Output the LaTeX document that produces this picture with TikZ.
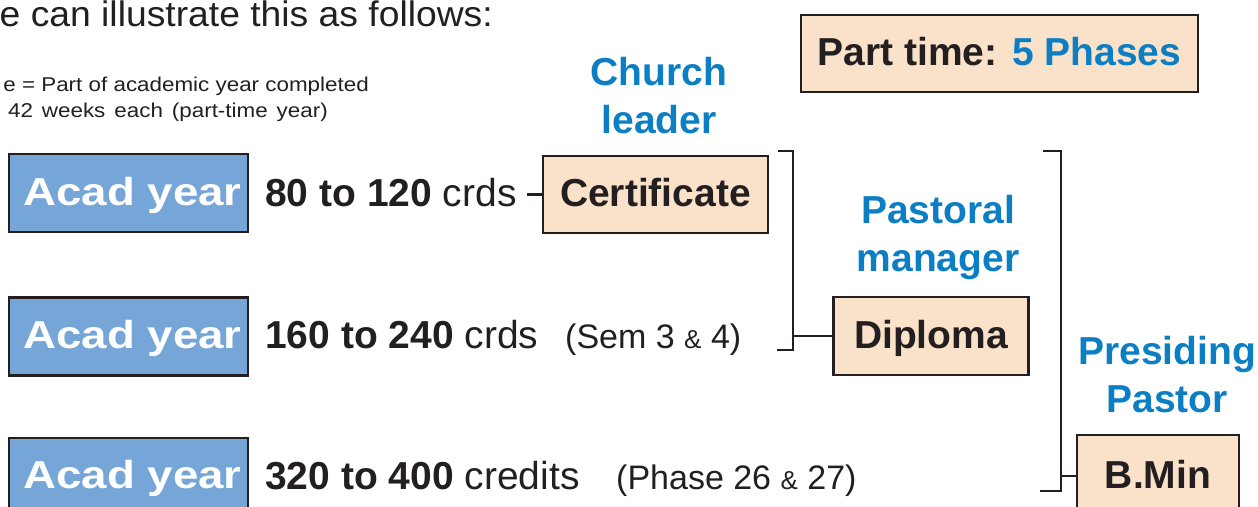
\documentclass[tikz,border=0pt]{standalone}
\usepackage{fontspec}
\setmainfont{Liberation Sans}
\definecolor{acadblue}{HTML}{76A6D8}
\definecolor{peach}{HTML}{F9E2C9}
\definecolor{roleblue}{HTML}{0B7EC4}
\definecolor{ink}{HTML}{231F20}
\begin{document}
\begin{tikzpicture}[x=1pt,y=-1pt,
  every node/.style={inner sep=0pt, text=ink},
  acadbox/.style={draw=ink, line width=2.2pt, fill=acadblue, minimum width=239pt,
    text=white, font=\fontsize{39}{39}\selectfont\bfseries, text height=28pt, text depth=4pt},
  degbox/.style={draw=ink, line width=2.2pt, fill=peach,
    font=\fontsize{39}{39}\selectfont\bfseries, text height=28pt, text depth=4pt},
  role/.style={text=roleblue, align=center, anchor=base, font=\fontsize{39}{48}\selectfont\bfseries},
  row/.style={anchor=base west, font=\fontsize{39}{39}\selectfont},
  note/.style={anchor=base west, font=\fontsize{34}{34}\selectfont},
  small/.style={anchor=base east, font=\fontsize{20}{20}\selectfont},
  brk/.style={draw=ink, line width=2.2pt}
]
\useasboundingbox (0,0) rectangle (1258,506);

% header texts
\node[anchor=base east, font=\fontsize{35.5}{35.5}\selectfont] (head) at (493,26)
  {\scalebox{1.05}[1]{e can illustrate this as follows:}};
\node[small] (leg1) at (369,91) {\scalebox{1.12}[1]{e = Part of academic year completed}};
\node[small] (leg2) at (328,117) {\scalebox{1.12}[1]{\spaceskip=0.4em 42 weeks each (part-time year)}};

% academic year boxes
\node[acadbox, minimum height=78pt] (acad1) at (128.5,193) {\hspace*{8pt}\scalebox{1.17}[1]{Acad year}};
\node[acadbox, minimum height=78pt] (acad2) at (128.5,336.5) {\hspace*{8pt}\scalebox{1.17}[1]{Acad year}};
\node[acadbox, minimum height=76pt] (acad3) at (128.5,476) {\hspace*{8pt}\scalebox{1.17}[1]{Acad year}};

% row texts
\node[row] (r1) at (265,206) {\textbf{80 to 120} crds};
\node[row] (r2) at (265,348) {\textbf{160 to 240} crds};
\node[note] (n2) at (565,348) {(Sem 3 {\fontsize{26}{26}\selectfont\&} 4)};
\node[row] (r3) at (265,489) {\textbf{320 to 400} credits};
\node[note] (n3) at (616,489) {(Phase 26 {\fontsize{26}{26}\selectfont\&} 27)};

% degree boxes
\node[degbox, minimum width=225pt, minimum height=77pt] (cert) at (655.5,194.5) {Certificate};
\node[degbox, minimum width=195pt, minimum height=78pt] (dip) at (931,336) {Diploma};
\node[degbox, minimum width=162pt, minimum height=82pt] (bmin) at (1158,476) {B.Min};
\node[degbox, minimum width=397pt, minimum height=77pt] (pt) at (999.5,53.5)
  {Part time: \textcolor{roleblue}{5 Phases}};

% role labels (anchor base = baseline of last line)
\node[role] (church) at (659,133) {Church\\leader};
\node[role] (pastoral) at (938,271) {Pastoral\\manager};
\node[role] (presiding) at (1167,412) {Presiding\\Pastor};

% connector crds -> certificate
\coordinate (c1) at (527,0);
\draw[brk] (c1 |- cert.west) -- (cert.west);

% bracket 1
\coordinate (b1top) at (778,151);
\coordinate (b1corner) at (793,151);
\coordinate (b1bot) at (777,350);
\draw[brk] (b1top) -- (b1corner) |- (b1bot);
\draw[brk] (dip.west) -- (dip.west -| b1corner);

% bracket 2
\coordinate (b2top) at (1043,151);
\coordinate (b2corner) at (1061,151);
\coordinate (b2bot) at (1040,491);
\draw[brk] (b2top) -- (b2corner) |- (b2bot);
\draw[brk] (bmin.west) -- (bmin.west -| b2corner);
\end{tikzpicture}
\end{document}
